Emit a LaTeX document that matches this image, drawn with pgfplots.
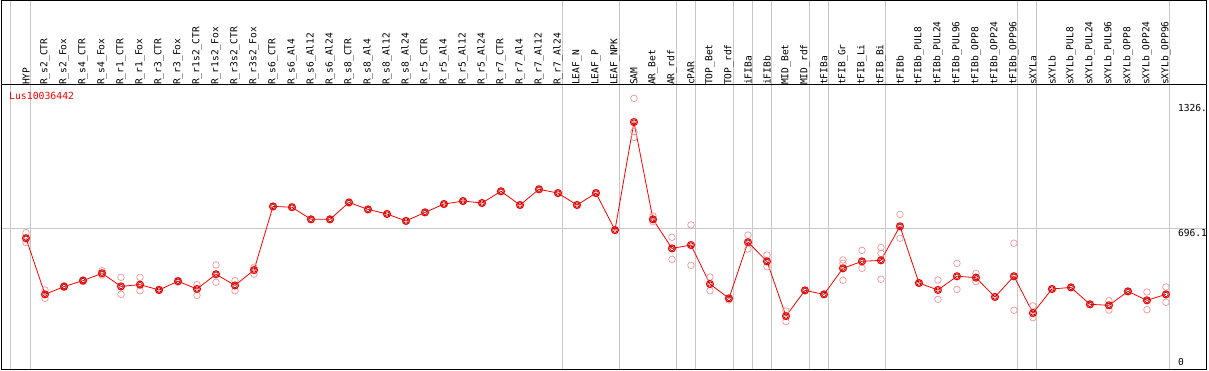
\documentclass[border=0pt]{standalone}
\usepackage{pgfplots}
\pgfplotsset{compat=1.18}
\usepackage{fontspec}
\newfontfamily\mono{DejaVu Sans Mono}
\definecolor{pale}{RGB}{238,150,150}
\definecolor{gridc}{RGB}{200,200,200}
\begin{document}
\begin{tikzpicture}
\path[use as bounding box] (0,0) rectangle (1209pt,370pt);
% label area (top band)
\begin{axis}[at={(1.5pt,285pt)}, anchor=south west, width=1205.5pt, height=84.5pt, scale only axis,
  xmin=-1.29, xmax=62.16, ymin=0, ymax=1,
  xtick={-0.83,0.21,28.21,31.21,34.21,35.21,37.21,38.21,39.21,41.21,42.21,45.21,52.21,53.21,60.21},
  xticklabels={}, ytick=\empty, xmajorgrids, major tick length=0pt,
  grid style={gridc, line width=0.9pt}, axis line style={black, line width=1pt}]
\addplot[draw=none] coordinates {(0,0.5)};
\end{axis}
\begin{axis}[at={(1.5pt,1pt)}, anchor=south west, width=1205.5pt, height=284pt, scale only axis,
  xmin=-1.29, xmax=62.16, ymin=-10.05, ymax=1417.1,
  axis line style={black, line width=1pt},
  xtick={0,...,60},
  xticklabels={HYP,R\_s2\_CTR,R\_s2\_Fox,R\_s4\_CTR,R\_s4\_Fox,R\_r1\_CTR,R\_r1\_Fox,R\_r3\_CTR,R\_r3\_Fox,R\_r1s2\_CTR,R\_r1s2\_Fox,R\_r3s2\_CTR,R\_r3s2\_Fox,R\_s6\_CTR,R\_s6\_Al4,R\_s6\_Al12,R\_s6\_Al24,R\_s8\_CTR,R\_s8\_Al4,R\_s8\_Al12,R\_s8\_Al24,R\_r5\_CTR,R\_r5\_Al4,R\_r5\_Al12,R\_r5\_Al24,R\_r7\_CTR,R\_r7\_Al4,R\_r7\_Al12,R\_r7\_Al24,LEAF\_N,LEAF\_P,LEAF\_NPK,SAM,AR\_Bet,AR\_rdf,cPAR,TOP\_Bet,TOP\_rdf,iFIBa,iFIBb,MID\_Bet,MID\_rdf,tFIBa,tFIB\_Gr,tFIB\_Li,tFIB\_Bi,tFIBb,tFIBb\_PUL8,tFIBb\_PUL24,tFIBb\_PUL96,tFIBb\_OPP8,tFIBb\_OPP24,tFIBb\_OPP96,sXYLa,sXYLb,sXYLb\_PUL8,sXYLb\_PUL24,sXYLb\_PUL96,sXYLb\_OPP8,sXYLb\_OPP24,sXYLb\_OPP96},
  xticklabel pos=upper,
  xticklabel style={rotate=90, anchor=west, font=\mono\fontsize{9.6}{10}\selectfont, inner sep=0pt, xshift=0pt},
  major tick length=0pt,
  extra x ticks={-0.83,0.21,28.21,31.21,34.21,35.21,37.21,38.21,39.21,41.21,42.21,45.21,52.21,53.21,60.21},
  extra x tick labels={},
  extra x tick style={grid=major},
  ytick={696.1}, yticklabels={}, ymajorgrids,
  grid style={gridc, line width=0.9pt},
  clip=false]
% replicates
\addplot[only marks, mark=o, mark size=3.3pt, mark options={draw=pale, line width=0.7pt}] coordinates {
(0,675)(0,625)(1,387)(1,345)(2,400)(2,408)(3,430)(3,438)(4,484)(4,462)
(5,451)(5,365)(6,451)(6,383)(7,384)(7,390)(8,428)(8,435)(9,414)(9,360)
(10,513)(10,426)(11,434)(11,383)(12,501)(12,467)
(13,807)(14,803)(15,742)(16,742)(17,827)(18,792)(19,769)(20,734)(21,777)(22,819)(23,834)(24,824)
(25,883)(26,814)(27,893)(28,874)(29,814)(30,874)(31,688)
(32,1350)(32,1182)(32,1154)(33,759)(33,730)(34,652)(34,541)(35,714)(35,511)
(36,452)(36,383)(37,337)(38,663)(38,593)(39,563)(39,504)(40,281)(40,228)
(41,385)(42,365)(43,538)(43,521)(43,436)(44,586)(44,496)(45,601)(45,571)(45,441)
(46,767)(46,647)(47,422)(48,437)(48,340)(49,521)(49,390)(50,471)(50,429)(51,352)
(52,622)(52,285)(53,307)(53,248)(54,392)(55,400)(56,315)(57,333)(57,286)(58,380)
(59,377)(59,288)(60,402)(60,325)};
% means
\addplot[red, line width=0.8pt, mark=o, mark size=3.5pt, mark options={draw=red, line width=1.1pt}] coordinates {
(0,647)(1,365)(2,404)(3,434)(4,471)(5,405)(6,414)(7,387)(8,431)(9,392)
(10,466)(11,410)(12,487)(13,807)(14,803)(15,742)(16,742)(17,827)(18,792)(19,769)
(20,734)(21,777)(22,819)(23,834)(24,824)(25,883)(26,814)(27,893)(28,874)(29,814)
(30,874)(31,688)(32,1231)(33,742)(34,596)(35,613)(36,417)(37,345)(38,627)(39,531)
(40,256)(41,385)(42,365)(43,496)(44,531)(45,536)(46,707)(47,422)(48,387)(49,456)
(50,449)(51,352)(52,456)(53,271)(54,392)(55,400)(56,315)(57,310)(58,380)(59,335)
(60,365)};
\addplot[only marks, mark=o, mark size=2.2pt, mark options={draw=red!55!black, line width=0.6pt}] coordinates {
(0,647)(1,365)(2,404)(3,434)(4,471)(5,405)(6,414)(7,387)(8,431)(9,392)
(10,466)(11,410)(12,487)(13,807)(14,803)(15,742)(16,742)(17,827)(18,792)(19,769)
(20,734)(21,777)(22,819)(23,834)(24,824)(25,883)(26,814)(27,893)(28,874)(29,814)
(30,874)(31,688)(32,1231)(33,742)(34,596)(35,613)(36,417)(37,345)(38,627)(39,531)
(40,256)(41,385)(42,365)(43,496)(44,531)(45,536)(46,707)(47,422)(48,387)(49,456)
(50,449)(51,352)(52,456)(53,271)(54,392)(55,400)(56,315)(57,310)(58,380)(59,335)
(60,365)};
\node[anchor=north west, inner sep=0pt, text=red, font=\mono\fontsize{9.8}{10}\selectfont] at ([xshift=7.5pt,yshift=-7pt]axis cs:-1.29,1417.1) {Lus10036442};
\node[anchor=north west, inner sep=0pt, font=\mono\fontsize{9.6}{10}\selectfont] at ([yshift=-1pt]axis cs:60.63,1326) {1326.};
\node[anchor=north west, inner sep=0pt, font=\mono\fontsize{9.6}{10}\selectfont] at ([yshift=-1pt]axis cs:60.63,696.1) {696.1};
\node[anchor=south west, inner sep=0pt, font=\mono\fontsize{9.6}{10}\selectfont] at ([yshift=1pt]axis cs:60.63,0) {0};
\end{axis}
\end{tikzpicture}
\end{document}
